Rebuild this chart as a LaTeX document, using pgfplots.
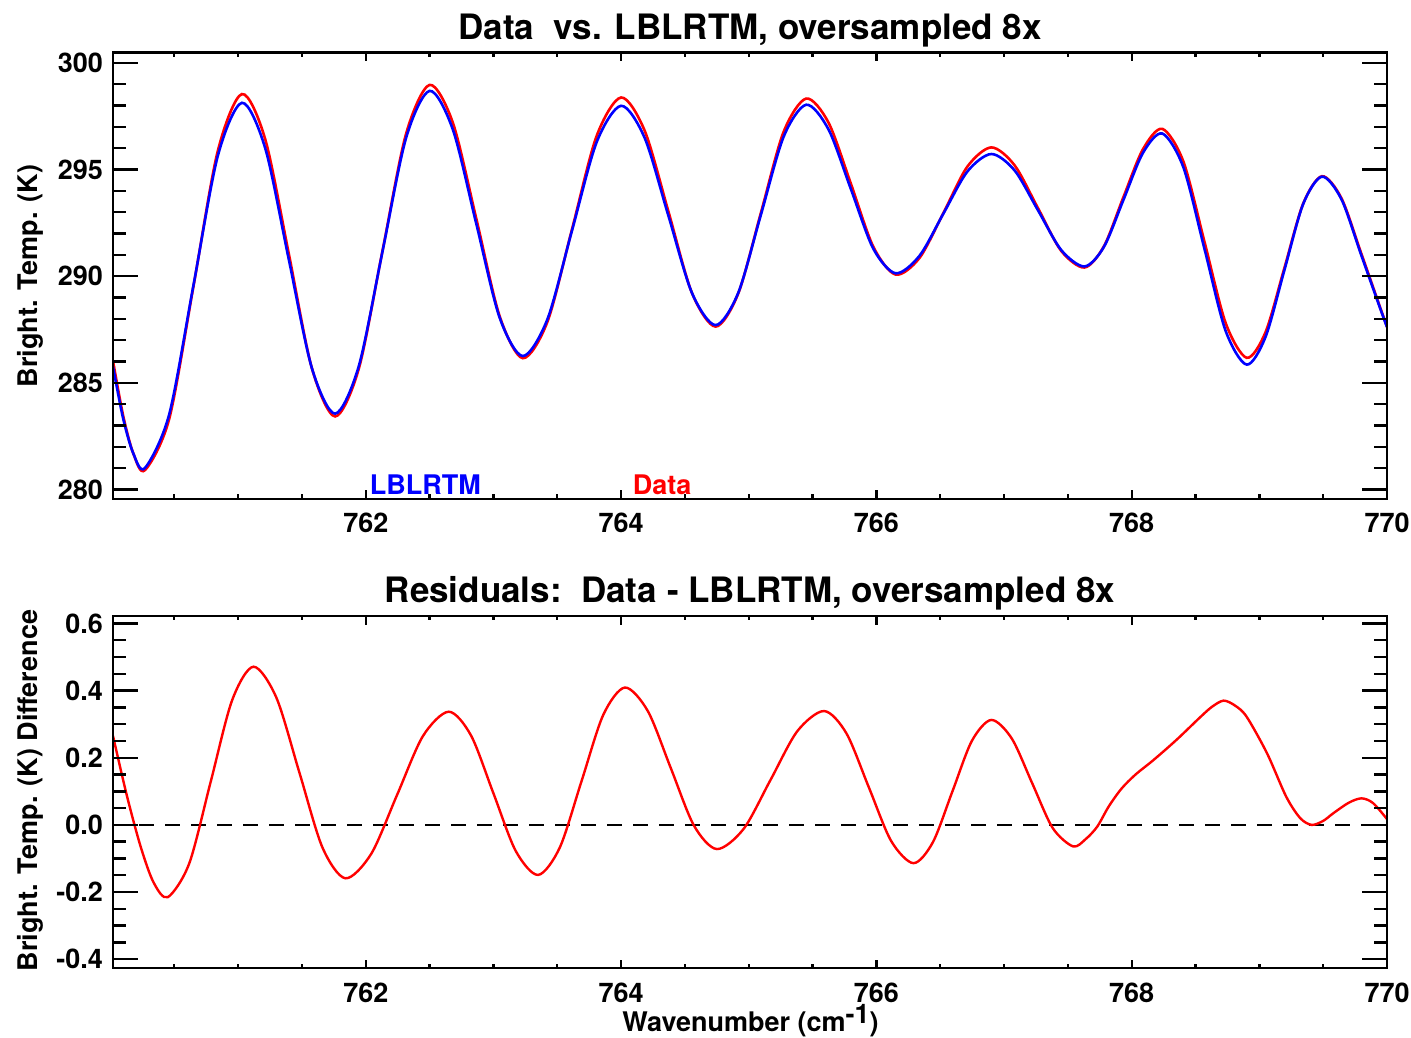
\documentclass[border=0pt]{standalone}
\usepackage{fontspec}
\setmainfont{TeX Gyre Heros}
\usepackage{pgfplots}
\pgfplotsset{compat=1.18}
\newcommand{\tfont}{\fontsize{27}{27}\selectfont\bfseries}
\newcommand{\ttlfont}{\fontsize{35}{35}\selectfont\bfseries}
\pgfplotsset{
  base/.style={scale only axis, width=1274pt, xmin=760.02, xmax=770,
    axis line style={line width=2.4pt},
    every tick/.style={black, line width=2.4pt},
    /pgf/number format/assume math mode=true,
    ticklabel style={font=\tfont}},
  xt/.style={xtick={762,764,766,768,770},
    minor xtick={760.5,761,761.5,762.5,763,763.5,764.5,765,765.5,766.5,767,767.5,768.5,769,769.5},
    major tick length=8.7pt, minor tick length=4.5pt, ytick=\empty,
    xticklabel style={anchor=base, yshift=-34pt, inner sep=0pt}},
  yt/.style={xtick=\empty, major tick length=25pt, minor tick length=12.7pt,
    yticklabel style={anchor=east, xshift=-10pt, inner sep=0pt}},
}
\begin{document}
\begin{tikzpicture}
\path[use as bounding box] (0pt,0pt) rectangle (1411pt,1038pt);
% ---------------- top panel ----------------
\begin{axis}[base, xt, at={(113pt,539pt)}, anchor=south west, height=446.3pt,
  ymin=279.55, ymax=300.47]
\addplot[red, line width=2.6pt, smooth] coordinates {
(760.02,286.02) (760.10,283.44) (760.18,281.67) (760.27,280.90) (760.46,283.30)
(760.65,289.51) (760.84,295.84) (761.03,298.53) (761.2125,296.41) (761.395,291.11)
(761.5775,285.69) (761.76,283.42) (761.945,285.65) (762.13,291.15) (762.315,296.65)
(762.50,298.96) (762.6825,297.18) (762.865,292.71) (763.0475,288.14) (763.23,286.15)
(763.4225,287.85) (763.615,292.18) (763.8075,296.55) (764.00,298.37) (764.185,296.81)
(764.37,293.04) (764.555,289.21) (764.74,287.63) (764.9175,289.18) (765.095,292.96)
(765.2725,296.75) (765.45,298.32) (765.625,297.19) (765.80,294.33) (765.975,291.38)
(766.15,290.07) (766.3375,290.85) (766.525,292.96) (766.7125,295.13) (766.90,296.03)
(767.0825,295.19) (767.265,293.19) (767.4475,291.18) (767.63,290.40) (767.7825,291.40)
(767.935,293.70) (768.0875,295.94) (768.24,296.90) (768.405,295.36) (768.57,291.60)
(768.735,287.81) (768.90,286.17) (769.0475,287.36) (769.195,290.36) (769.3425,293.39)
(769.49,294.68) (769.6425,293.65) (769.795,291.11) (769.9475,288.50) (770.0,287.62)
};
\addplot[blue, line width=2.6pt, smooth] coordinates {
(760.02,285.75) (760.10,283.31) (760.18,281.67) (760.27,281.00) (760.46,283.51)
(760.65,289.56) (760.84,295.61) (761.03,298.12) (761.2125,295.99) (761.395,290.84)
(761.5775,285.69) (761.76,283.55) (761.945,285.77) (762.13,291.12) (762.315,296.46)
(762.50,298.68) (762.6825,296.86) (762.865,292.47) (763.0475,288.07) (763.23,286.25)
(763.4225,287.97) (763.615,292.12) (763.8075,296.26) (764.00,297.98) (764.185,296.47)
(764.37,292.84) (764.555,289.21) (764.74,287.70) (764.9175,289.21) (765.095,292.87)
(765.2725,296.52) (765.45,298.03) (765.625,296.87) (765.80,294.08) (765.975,291.29)
(766.15,290.13) (766.3375,290.95) (766.525,292.93) (766.7125,294.90) (766.90,295.72)
(767.0825,294.95) (767.265,293.09) (767.4475,291.22) (767.63,290.45) (767.7825,291.37)
(767.935,293.57) (768.0875,295.77) (768.24,296.68) (768.405,295.09) (768.57,291.27)
(768.735,287.44) (768.90,285.85) (769.0475,287.14) (769.195,290.26) (769.3425,293.37)
(769.49,294.66) (769.6425,293.60) (769.795,291.03) (769.9475,288.46) (770.0,287.60)
};
\node[anchor=base west, inner sep=0pt, text=blue, font=\tfont] at (axis cs:762.03,279.78) {LBLRTM};
\node[anchor=base west, inner sep=0pt, text=red, font=\tfont] at (axis cs:764.09,279.78) {Data};
\end{axis}
\begin{axis}[base, yt, at={(113pt,539pt)}, anchor=south west, height=446.3pt,
  ymin=279.55, ymax=300.47, ytick={280,285,290,295,300}, minor y tick num=4]
\end{axis}
% ---------------- bottom panel ----------------
\begin{axis}[base, xt, at={(113pt,69.7pt)}, anchor=south west, height=352.3pt,
  ymin=-0.427, ymax=0.622]
\addplot[black, line width=2pt, dash pattern=on 15pt off 11pt] coordinates {(760.02,0) (770,0)};
\addplot[red, line width=2.4pt, smooth] coordinates {
(760.02,0.265) (760.13,0.085) (760.24,-0.069) (760.34,-0.173) (760.45,-0.215)
(760.6175,-0.1145) (760.785,0.128) (760.9525,0.3705) (761.12,0.471)
(761.30,0.3787) (761.48,0.156) (761.66,-0.0667) (761.84,-0.159)
(762.0425,-0.0863) (762.245,0.089) (762.4475,0.2643) (762.65,0.337)
(762.825,0.2658) (763.00,0.094) (763.175,-0.0778) (763.35,-0.149)
(763.52,-0.0673) (763.69,0.13) (763.86,0.3273) (764.03,0.409)
(764.21,0.3385) (764.39,0.1685) (764.57,-0.0015) (764.75,-0.072)
(764.96,-0.0118) (765.17,0.1335) (765.38,0.2788) (765.59,0.339)
(765.765,0.2726) (765.94,0.1125) (766.115,-0.0476) (766.29,-0.114)
(766.4425,-0.0515) (766.595,0.0993) (766.7475,0.25) (766.90,0.3125)
(767.06,0.2574) (767.22,0.1243) (767.38,-0.0088) (767.54,-0.064)
(767.64,-0.042) (767.73,-0.005) (767.82,0.055) (767.92,0.108) (768.03,0.150)
(768.17,0.193) (768.35,0.253) (768.54,0.322) (768.63,0.352) (768.72,0.370)
(768.81,0.355) (768.90,0.322) (769.06,0.213) (769.21,0.084) (769.32,0.02)
(769.41,0.0) (769.50,0.012) (769.58,0.035) (769.70,0.066) (769.80,0.079)
(769.89,0.065) (770.0,0.017)
};
\end{axis}
\begin{axis}[base, yt, at={(113pt,69.7pt)}, anchor=south west, height=352.3pt,
  ymin=-0.427, ymax=0.622, ytick={-0.4,-0.2,0,0.2,0.4,0.6}, minor y tick num=3,
  yticklabel={\pgfmathprintnumber[fixed,fixed zerofill,precision=1]{\tick}}]
\end{axis}
% ---------------- titles and labels ----------------
\node[anchor=base, inner sep=0pt, font=\ttlfont] at (750pt,998pt) {Data~~vs. LBLRTM, oversampled 8x};
\node[anchor=base, inner sep=0pt, font=\ttlfont] at (750pt,435pt) {Residuals:~~Data - LBLRTM, oversampled 8x};
\node[rotate=90, anchor=base, inner sep=0pt, font=\tfont] at (37pt,762pt) {Bright. Temp. (K)};
\node[rotate=90, anchor=base, inner sep=0pt, font=\tfont] at (37pt,247.5pt) {Bright. Temp. (K) Difference};
\node[anchor=base, inner sep=0pt, font=\tfont] at (750.5pt,6pt) {Wavenumber (cm\raisebox{8pt}{-1})};
\end{tikzpicture}
\end{document}
